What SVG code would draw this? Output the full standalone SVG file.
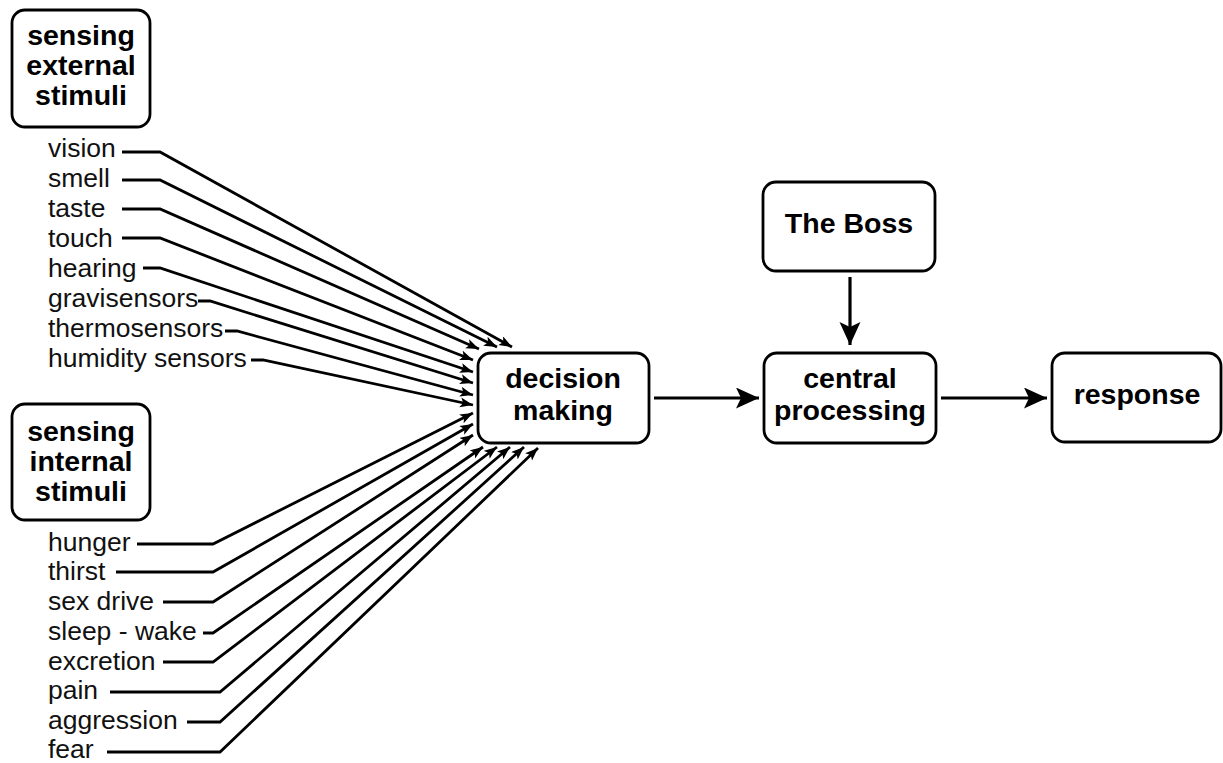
<svg xmlns="http://www.w3.org/2000/svg" width="1223" height="763" viewBox="0 0 1223 763">
<defs>
<style>
.box{fill:#fff;stroke:#000;stroke-width:2.8}
.bt{font-family:"Liberation Sans",Arial,sans-serif;font-weight:bold;font-size:28.5px;fill:#000;text-anchor:middle}
.lt{font-family:"Liberation Sans",Arial,sans-serif;font-size:26.5px;fill:#111}
.fan{fill:none;stroke:#000;stroke-width:2.8;stroke-linejoin:miter;marker-end:url(#sa)}
.main{fill:none;stroke:#000;stroke-width:3.2;marker-end:url(#la)}
</style>
<marker id="sa" markerUnits="userSpaceOnUse" markerWidth="16" markerHeight="12" refX="13" refY="5" orient="auto">
<path d="M0,0 L13,5 L0,10 L3,5 z" fill="#000"/>
</marker>
<marker id="la" markerUnits="userSpaceOnUse" markerWidth="26" markerHeight="22" refX="23" refY="10.5" orient="auto">
<path d="M0,0 L23,10.5 L0,21 L5,10.5 z" fill="#000"/>
</marker>
</defs>
<rect width="1223" height="763" fill="#fff"/>

<g id="connectors">
<polyline class="fan" points="122,152 160,152 512,347"/>
<polyline class="fan" points="122,180 160,180 497,347"/>
<polyline class="fan" points="122,209 160,209 479,349"/>
<polyline class="fan" points="122,238 160,238 473,360"/>
<polyline class="fan" points="143,268 160,268 473,372"/>
<polyline class="fan" points="198,301 210,301 473,383"/>
<polyline class="fan" points="225,331 237,331 473,395"/>
<polyline class="fan" points="251,360 263,360 473,405"/>

<polyline class="fan" points="137,544 213,544 473,413"/>
<polyline class="fan" points="116,572 213,572 473,424"/>
<polyline class="fan" points="163,602 213,602 473,435"/>
<polyline class="fan" points="203,633 213,633 483,447"/>
<polyline class="fan" points="163,662 213,662 497,447"/>
<polyline class="fan" points="110,692 220,692 510,447"/>
<polyline class="fan" points="187,722 220,722 524,447"/>
<polyline class="fan" points="107,752 220,752 538,448"/>

<line class="main" x1="654" y1="398" x2="759" y2="398"/>
<line class="main" x1="941" y1="398" x2="1047" y2="398"/>
<line class="main" x1="850" y1="277" x2="850" y2="345"/>
</g>

<g id="node-external">
<rect class="box" x="12" y="10" width="138" height="117" rx="13"/>
<text class="bt" x="81" y="45">sensing</text>
<text class="bt" x="81" y="75">external</text>
<text class="bt" x="81" y="105">stimuli</text>
</g>

<g id="labels-external">
<text class="lt" x="48" y="157">vision</text>
<text class="lt" x="48" y="187">smell</text>
<text class="lt" x="48" y="217">taste</text>
<text class="lt" x="48" y="247">touch</text>
<text class="lt" x="48" y="277">hearing</text>
<text class="lt" x="48" y="307">gravisensors</text>
<text class="lt" x="48" y="337">thermosensors</text>
<text class="lt" x="48" y="367">humidity sensors</text>
</g>

<g id="node-internal">
<rect class="box" x="12" y="404" width="138" height="116" rx="13"/>
<text class="bt" x="81" y="441">sensing</text>
<text class="bt" x="81" y="471">internal</text>
<text class="bt" x="81" y="501">stimuli</text>
</g>

<g id="labels-internal">
<text class="lt" x="48" y="551">hunger</text>
<text class="lt" x="48" y="580">thirst</text>
<text class="lt" x="48" y="610">sex drive</text>
<text class="lt" x="48" y="640">sleep - wake</text>
<text class="lt" x="48" y="670">excretion</text>
<text class="lt" x="48" y="699">pain</text>
<text class="lt" x="48" y="729">aggression</text>
<text class="lt" x="48" y="758">fear</text>
</g>

<g id="node-decision">
<rect class="box" x="478" y="353" width="171" height="90" rx="13"/>
<text class="bt" x="563" y="388">decision</text>
<text class="bt" x="563" y="420">making</text>
</g>

<g id="node-boss">
<rect class="box" x="763" y="182" width="172" height="89" rx="13"/>
<text class="bt" x="849" y="233">The Boss</text>
</g>

<g id="node-central">
<rect class="box" x="764" y="353" width="172" height="90" rx="13"/>
<text class="bt" x="850" y="388">central</text>
<text class="bt" x="850" y="420">processing</text>
</g>

<g id="node-response">
<rect class="box" x="1052" y="353" width="169" height="89" rx="13"/>
<text class="bt" x="1137" y="404">response</text>
</g>
</svg>
